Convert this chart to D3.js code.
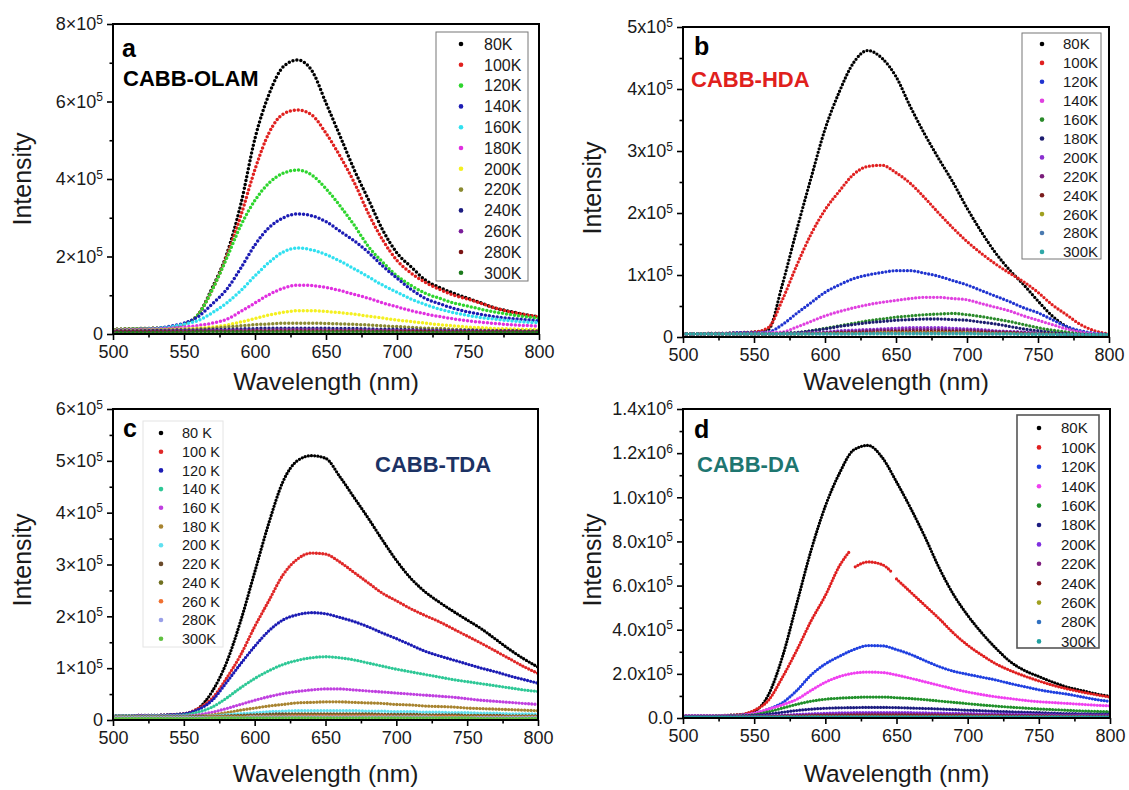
<!DOCTYPE html>
<html>
<head>
<meta charset="utf-8">
<script src="https://cdn.jsdelivr.net/npm/d3@7"></script>
<style>
  body { margin: 0; background: #fff; }
  text { font-family: Arial, "Liberation Sans", sans-serif; }
</style>
</head>
<body>
<script>
// wavelength grid (nm) shared by the spectra, intensities in units of 1e5
var waves = [500,510,520,530,540,550,560,570,580,590,600,610,620,630,640,650,660,670,680,690,700,710,720,730,740,750,760,770,780,790,800];

// ---- panel a : CABB-OLAM ----
var tempsA = ['80K','100K','120K','140K','160K','180K','200K','220K','240K','260K','280K','300K'];
var a80  = [0.12,0.13,0.14,0.15,0.17,0.25,0.5,1.2,2.05,3.35,5.05,6.2,6.9,7.07,6.8,5.96,5.1,4.23,3.46,2.68,2.09,1.73,1.39,1.2,1.05,0.92,0.79,0.66,0.58,0.5,0.44];
var a100 = [0.12,0.13,0.14,0.15,0.17,0.25,0.5,1.15,2.0,3.05,4.25,5.2,5.68,5.78,5.65,5.18,4.58,3.9,3.1,2.42,1.9,1.57,1.33,1.15,1.0,0.9,0.78,0.66,0.57,0.5,0.44];
var a120 = [0.12,0.13,0.14,0.15,0.17,0.25,0.5,1.15,1.95,2.8,3.45,3.9,4.15,4.23,4.1,3.75,3.3,2.8,2.25,1.85,1.5,1.25,1.05,0.92,0.8,0.72,0.63,0.56,0.5,0.45,0.41];
var a140 = [0.1,0.11,0.12,0.14,0.2,0.28,0.45,0.78,1.15,1.7,2.3,2.75,3.0,3.1,3.05,2.9,2.65,2.4,2.1,1.75,1.44,1.15,0.92,0.78,0.66,0.57,0.5,0.44,0.4,0.37,0.34];
var a160 = [0.1,0.11,0.12,0.14,0.18,0.25,0.35,0.55,0.8,1.12,1.5,1.85,2.12,2.22,2.17,2.05,1.88,1.68,1.47,1.26,1.08,0.9,0.76,0.64,0.55,0.48,0.42,0.38,0.34,0.31,0.29];
var a180 = [0.1,0.11,0.12,0.13,0.15,0.18,0.22,0.28,0.38,0.58,0.8,1.02,1.18,1.26,1.25,1.2,1.12,1.02,0.92,0.8,0.7,0.6,0.52,0.45,0.39,0.34,0.3,0.27,0.24,0.22,0.2];
var a200 = [0.09,0.1,0.1,0.11,0.12,0.13,0.15,0.18,0.23,0.31,0.4,0.49,0.56,0.6,0.6,0.58,0.55,0.51,0.46,0.41,0.36,0.32,0.28,0.24,0.21,0.18,0.16,0.14,0.13,0.12,0.11];
var a220 = [0.09,0.09,0.1,0.1,0.11,0.12,0.13,0.15,0.18,0.21,0.24,0.26,0.28,0.28,0.28,0.27,0.26,0.25,0.23,0.21,0.19,0.17,0.15,0.14,0.12,0.11,0.1,0.09,0.09,0.08,0.08];
var a240 = [0.08,0.08,0.08,0.09,0.09,0.1,0.1,0.11,0.12,0.13,0.14,0.15,0.15,0.15,0.15,0.15,0.14,0.14,0.13,0.12,0.12,0.11,0.1,0.1,0.09,0.09,0.08,0.08,0.08,0.07,0.07];
var a260 = [0.07,0.07,0.07,0.07,0.08,0.08,0.08,0.09,0.09,0.1,0.1,0.1,0.11,0.11,0.11,0.1,0.1,0.1,0.1,0.09,0.09,0.09,0.08,0.08,0.08,0.07,0.07,0.07,0.07,0.06,0.06];
var a280 = [0.06,0.06,0.06,0.06,0.06,0.06,0.07,0.07,0.07,0.07,0.08,0.08,0.08,0.08,0.08,0.08,0.08,0.08,0.07,0.07,0.07,0.07,0.07,0.06,0.06,0.06,0.06,0.06,0.06,0.05,0.05];
var a300 = [0.04,0.04,0.04,0.04,0.04,0.04,0.05,0.05,0.05,0.05,0.05,0.05,0.05,0.05,0.05,0.05,0.05,0.05,0.05,0.05,0.04,0.04,0.04,0.04,0.04,0.04,0.04,0.04,0.04,0.04,0.04];

// ---- panel b : CABB-HDA ----
var tempsB = tempsA;
var b80  = [0.05,0.05,0.06,0.06,0.07,0.08,0.12,0.85,1.72,2.55,3.35,3.95,4.42,4.62,4.5,4.2,3.72,3.28,2.88,2.5,2.08,1.7,1.36,1.08,0.84,0.58,0.34,0.17,0.08,0.04,0.03];
var b100 = [0.05,0.05,0.06,0.06,0.07,0.08,0.15,0.6,1.15,1.65,2.05,2.35,2.62,2.75,2.77,2.65,2.48,2.25,2.0,1.76,1.54,1.35,1.18,1.03,0.89,0.72,0.52,0.36,0.2,0.1,0.05];
var b120 = [0.05,0.05,0.06,0.06,0.07,0.07,0.08,0.2,0.38,0.55,0.72,0.84,0.94,1.0,1.04,1.07,1.07,1.03,0.98,0.91,0.84,0.75,0.66,0.57,0.47,0.39,0.28,0.17,0.1,0.06,0.04];
var b140 = [0.05,0.05,0.05,0.06,0.06,0.06,0.07,0.08,0.16,0.25,0.34,0.41,0.47,0.52,0.56,0.59,0.62,0.64,0.64,0.62,0.6,0.54,0.48,0.42,0.34,0.27,0.2,0.13,0.08,0.05,0.03];
var b160 = [0.05,0.05,0.05,0.05,0.05,0.05,0.05,0.06,0.07,0.1,0.14,0.18,0.22,0.26,0.29,0.32,0.34,0.36,0.37,0.38,0.36,0.33,0.29,0.25,0.2,0.15,0.11,0.08,0.05,0.04,0.03];
var b180 = [0.05,0.05,0.05,0.05,0.05,0.05,0.05,0.06,0.07,0.1,0.13,0.17,0.2,0.23,0.25,0.27,0.28,0.29,0.29,0.28,0.27,0.24,0.21,0.17,0.13,0.1,0.07,0.05,0.04,0.03,0.03];
var b200 = [0.05,0.05,0.05,0.05,0.05,0.05,0.05,0.05,0.06,0.07,0.08,0.1,0.11,0.12,0.13,0.14,0.15,0.15,0.15,0.14,0.13,0.12,0.1,0.09,0.08,0.06,0.05,0.04,0.03,0.03,0.03];
var b220 = [0.05,0.05,0.05,0.05,0.05,0.05,0.05,0.05,0.05,0.06,0.07,0.08,0.09,0.1,0.11,0.11,0.12,0.12,0.12,0.11,0.11,0.1,0.09,0.08,0.07,0.06,0.05,0.04,0.03,0.03,0.03];
var b240 = [0.05,0.05,0.05,0.05,0.05,0.05,0.05,0.05,0.05,0.06,0.06,0.07,0.07,0.08,0.08,0.09,0.09,0.09,0.09,0.09,0.08,0.08,0.07,0.07,0.06,0.05,0.05,0.04,0.03,0.03,0.03];
var b260 = [0.05,0.05,0.05,0.05,0.05,0.05,0.05,0.05,0.05,0.05,0.06,0.06,0.06,0.06,0.07,0.07,0.07,0.07,0.07,0.07,0.07,0.06,0.06,0.06,0.05,0.05,0.05,0.04,0.04,0.03,0.03];
var b280 = [0.05,0.05,0.05,0.05,0.05,0.05,0.05,0.05,0.05,0.05,0.05,0.05,0.05,0.06,0.06,0.06,0.06,0.06,0.06,0.06,0.06,0.05,0.05,0.05,0.05,0.05,0.04,0.04,0.04,0.03,0.03];
var b300 = [0.05,0.05,0.05,0.05,0.05,0.05,0.05,0.05,0.05,0.05,0.05,0.05,0.05,0.05,0.05,0.05,0.05,0.05,0.05,0.05,0.05,0.05,0.05,0.05,0.04,0.04,0.04,0.04,0.04,0.04,0.04];

// ---- panel c : CABB-TDA ----
var tempsC = ['80 K','100 K','120 K','140 K','160 K','180 K','200 K','220 K','240 K','260 K','280K','300K'];
var c80  = [0.08,0.08,0.09,0.09,0.1,0.12,0.22,0.55,1.1,1.9,2.85,3.8,4.6,5.0,5.1,5.05,4.7,4.3,3.9,3.48,3.08,2.74,2.48,2.28,2.1,1.93,1.76,1.56,1.36,1.18,1.02];
var c100 = [0.08,0.08,0.09,0.09,0.1,0.12,0.22,0.42,0.8,1.25,1.8,2.3,2.8,3.1,3.22,3.2,3.05,2.85,2.65,2.45,2.3,2.15,2.02,1.9,1.76,1.62,1.48,1.33,1.18,1.03,0.9];
var c120 = [0.08,0.08,0.09,0.09,0.1,0.12,0.2,0.38,0.72,1.08,1.42,1.72,1.93,2.03,2.07,2.05,1.98,1.9,1.8,1.68,1.57,1.45,1.33,1.24,1.16,1.08,1.0,0.93,0.85,0.78,0.71];
var c140 = [0.08,0.08,0.08,0.09,0.09,0.1,0.15,0.25,0.42,0.62,0.8,0.95,1.07,1.15,1.2,1.22,1.2,1.16,1.1,1.04,0.98,0.93,0.88,0.83,0.78,0.74,0.7,0.66,0.62,0.58,0.55];
var c160 = [0.07,0.07,0.08,0.08,0.08,0.08,0.1,0.15,0.22,0.3,0.38,0.45,0.51,0.55,0.58,0.6,0.6,0.58,0.56,0.54,0.52,0.5,0.48,0.46,0.44,0.41,0.38,0.36,0.34,0.32,0.3];
var c180 = [0.07,0.07,0.07,0.07,0.07,0.07,0.08,0.1,0.14,0.19,0.23,0.27,0.3,0.33,0.34,0.35,0.35,0.34,0.33,0.32,0.3,0.29,0.27,0.26,0.25,0.23,0.22,0.21,0.2,0.19,0.18];
var c200 = [0.07,0.07,0.07,0.07,0.07,0.07,0.07,0.08,0.1,0.12,0.14,0.16,0.17,0.18,0.18,0.18,0.18,0.18,0.17,0.17,0.16,0.16,0.15,0.15,0.14,0.14,0.13,0.13,0.12,0.12,0.11];
var c220 = [0.06,0.06,0.06,0.06,0.06,0.06,0.07,0.07,0.08,0.09,0.1,0.11,0.12,0.12,0.12,0.12,0.12,0.12,0.12,0.11,0.11,0.11,0.1,0.1,0.1,0.09,0.09,0.09,0.08,0.08,0.08];
var c240 = [0.06,0.06,0.06,0.06,0.06,0.06,0.06,0.07,0.07,0.08,0.08,0.09,0.09,0.1,0.1,0.1,0.1,0.1,0.1,0.09,0.09,0.09,0.09,0.08,0.08,0.08,0.08,0.07,0.07,0.07,0.07];
var c260 = [0.05,0.05,0.05,0.05,0.05,0.05,0.05,0.06,0.06,0.06,0.07,0.07,0.07,0.08,0.08,0.08,0.08,0.08,0.08,0.08,0.07,0.07,0.07,0.07,0.07,0.06,0.06,0.06,0.06,0.06,0.06];
var c280 = [0.05,0.05,0.05,0.05,0.05,0.05,0.05,0.05,0.05,0.05,0.06,0.06,0.06,0.06,0.06,0.06,0.06,0.06,0.06,0.06,0.06,0.06,0.06,0.05,0.05,0.05,0.05,0.05,0.05,0.05,0.05];
var c300 = [0.03,0.03,0.03,0.03,0.03,0.03,0.03,0.04,0.04,0.04,0.04,0.04,0.04,0.04,0.04,0.04,0.04,0.04,0.04,0.04,0.04,0.04,0.04,0.04,0.04,0.04,0.03,0.03,0.03,0.03,0.03];

// ---- panel d : CABB-DA ----
var tempsD = tempsA;
var d80  = [0.1,0.1,0.1,0.12,0.15,0.3,1.05,2.8,5.2,7.6,9.6,11.1,12.15,12.35,11.8,10.7,9.5,8.2,6.8,5.6,4.65,3.85,3.15,2.55,2.15,1.88,1.62,1.4,1.25,1.1,0.98];
// 100K has two breaks in the measured spectrum
var dWaves100 = [500,510,520,530,540,550,560,570,580,590,600,610,617,619,621,630,640,646,648,650,660,670,680,690,700,710,720,730,740,750,760,770,780,790,800];
var d100 = [0.1,0.1,0.1,0.12,0.15,0.35,0.8,1.86,3.08,4.4,5.55,6.9,7.55,null,6.85,7.07,6.95,6.65,null,6.3,5.7,5.1,4.5,3.85,3.3,2.85,2.45,2.15,1.9,1.68,1.48,1.32,1.18,1.06,0.95];
var d120 = [0.1,0.1,0.1,0.11,0.13,0.2,0.4,0.7,1.25,1.95,2.45,2.8,3.1,3.28,3.27,3.1,2.88,2.6,2.33,2.12,1.98,1.85,1.72,1.56,1.42,1.28,1.17,1.08,0.96,0.84,0.75];
var d140 = [0.1,0.1,0.1,0.11,0.12,0.22,0.4,0.6,0.85,1.25,1.62,1.88,2.03,2.08,2.06,1.95,1.8,1.64,1.48,1.32,1.18,1.06,0.96,0.88,0.8,0.74,0.7,0.66,0.62,0.58,0.55];
var d160 = [0.08,0.08,0.08,0.09,0.1,0.15,0.28,0.45,0.62,0.76,0.85,0.9,0.93,0.95,0.95,0.92,0.88,0.83,0.77,0.71,0.65,0.59,0.54,0.49,0.45,0.41,0.38,0.35,0.32,0.3,0.28];
var d180 = [0.07,0.07,0.07,0.08,0.09,0.12,0.18,0.26,0.34,0.4,0.44,0.46,0.47,0.48,0.48,0.47,0.45,0.43,0.41,0.38,0.35,0.33,0.3,0.28,0.26,0.24,0.22,0.2,0.19,0.18,0.17];
var d200 = [0.06,0.06,0.06,0.07,0.07,0.08,0.1,0.13,0.16,0.19,0.21,0.23,0.24,0.25,0.25,0.25,0.24,0.23,0.22,0.21,0.2,0.19,0.18,0.17,0.16,0.15,0.14,0.13,0.13,0.12,0.12];
var d220 = [0.05,0.05,0.05,0.06,0.06,0.07,0.08,0.1,0.12,0.14,0.15,0.16,0.17,0.18,0.18,0.18,0.17,0.17,0.16,0.15,0.15,0.14,0.13,0.13,0.12,0.12,0.11,0.11,0.1,0.1,0.1];
var d240 = [0.05,0.05,0.05,0.05,0.05,0.06,0.07,0.08,0.09,0.1,0.11,0.11,0.12,0.12,0.12,0.12,0.12,0.11,0.11,0.11,0.1,0.1,0.1,0.09,0.09,0.09,0.08,0.08,0.08,0.08,0.07];
var d260 = [0.04,0.04,0.04,0.04,0.05,0.05,0.05,0.06,0.06,0.07,0.07,0.07,0.08,0.08,0.08,0.08,0.08,0.08,0.07,0.07,0.07,0.07,0.07,0.06,0.06,0.06,0.06,0.06,0.06,0.05,0.05];
var d280 = [0.05,0.05,0.05,0.05,0.05,0.05,0.05,0.05,0.05,0.05,0.05,0.05,0.05,0.05,0.05,0.05,0.05,0.05,0.05,0.05,0.05,0.05,0.05,0.05,0.05,0.05,0.05,0.05,0.05,0.05,0.05];
var d300 = [0.03,0.03,0.03,0.03,0.03,0.03,0.03,0.03,0.03,0.03,0.03,0.03,0.03,0.03,0.03,0.03,0.03,0.03,0.03,0.03,0.03,0.03,0.03,0.03,0.03,0.03,0.03,0.03,0.03,0.03,0.03];

// axis ticks
var xMajor = [500,550,600,650,700,750,800];
var xMinor = [525,575,625,675,725,775];

// colours
var colorsA = ['#000000','#e0201e','#2ed52e','#1c1cb4','#30e0f0','#e030e0','#f4f020','#8a8a30','#1c1c80','#7a1c9a','#7a1414','#1c7a1c'];
var colorsB = ['#000000','#e02020','#2034d0','#e040e0','#2a8a2a','#1c1c70','#8a30d0','#7a1c7a','#7a1c1c','#a0a020','#4a7ab0','#30a8a8'];
var colorsC = ['#000000','#e02828','#1c1cb4','#2ec896','#c040e0','#a88430','#60e0f0','#6a4a2a','#707020','#f07030','#9aa0e8','#60c040'];
var colorsD = ['#000000','#e02020','#2040e0','#f040f0','#20902a','#1c1c80','#8030e0','#802080','#801818','#a0a020','#3070c0','#20a0a0'];

var panels = [
  { id:'a', L:113, T:24, R:539, B:334, ymax:8, yMajor:[0,2,4,6,8], yMinor:[1,3,5,7],
    fmt:function(d){ return d===0 ? ['0'] : [d+'\u00d710','5']; },
    series:[a80,a100,a120,a140,a160,a180,a200,a220,a240,a260,a280,a300], temps:tempsA, colors:colorsA,
    dotW:3.5, dotGap:4.0,
    letter:{x:122,y:57}, name:{text:'CABB-OLAM', x:123, y:86, color:'#000'},
    legend:{x0:436,y0:32,x1:528,y1:281, row0:44, step:20.8, cx:461, tx:484, fs:16, stroke:'#777', sw:1},
    ylabY:179, xlabY:390 },
  { id:'b', L:683, T:27, R:1109, B:337, ymax:5, yMajor:[0,1,2,3,4,5], yMinor:[0.5,1.5,2.5,3.5,4.5],
    fmt:function(d){ return d===0 ? ['0'] : [d+'x10','5']; },
    series:[b80,b100,b120,b140,b160,b180,b200,b220,b240,b260,b280,b300], temps:tempsB, colors:colorsB,
    dotW:3.3, dotGap:3.6,
    letter:{x:694,y:55}, name:{text:'CABB-HDA', x:691, y:87, color:'#e0201c'},
    legend:{x0:1022,y0:33,x1:1101,y1:259, row0:44, step:18.9, cx:1042, tx:1063, fs:15, stroke:'#777', sw:1},
    ylabY:188, xlabY:390 },
  { id:'c', L:113, T:409, R:538, B:720, ymax:6, yMajor:[0,1,2,3,4,5,6], yMinor:[0.5,1.5,2.5,3.5,4.5,5.5],
    fmt:function(d){ return d===0 ? ['0'] : [d+'\u00d710','5']; },
    series:[c80,c100,c120,c140,c160,c180,c200,c220,c240,c260,c280,c300], temps:tempsC, colors:colorsC,
    dotW:3.3, dotGap:3.2,
    letter:{x:123,y:437}, name:{text:'CABB-TDA', x:375, y:472, color:'#1c3264'},
    legend:{x0:143,y0:421,x1:223,y1:647, row0:433, step:18.7, cx:161, tx:182, fs:14.5, stroke:'#e4e4e4', sw:1},
    ylabY:560, xlabY:782 },
  { id:'d', L:683, T:409, R:1110, B:718, ymax:14, yMajor:[0,2,4,6,8,10,12,14], yMinor:[1,3,5,7,9,11,13],
    fmt:function(d){ return d===0 ? ['0.0'] : (d<10 ? [d.toFixed(1)+'x10','5'] : [(d/10).toFixed(1)+'x10','6']); },
    series:[d80,d100,d120,d140,d160,d180,d200,d220,d240,d260,d280,d300], temps:tempsD, colors:colorsD,
    waveSets:{1:dWaves100},
    dotW:3.2, dotGap:3.0,
    letter:{x:694,y:438}, name:{text:'CABB-DA', x:697, y:472, color:'#1e7670'},
    legend:{x0:1017,y0:415,x1:1099,y1:648, row0:428, step:19.4, cx:1039, tx:1061, fs:15, stroke:'#555', sw:1.6},
    ylabY:560, xlabY:782 }
];

var svg = d3.select('body').append('svg').attr('width',1129).attr('height',790);

var drawPanel = function(p){

  var g = svg.append('g');
  var x = d3.scaleLinear().domain([500,800]).range([p.L,p.R]);
  var y = d3.scaleLinear().domain([0,p.ymax]).range([p.B,p.T]);

  svg.append('clipPath').attr('id','clip'+p.id)
     .append('rect').attr('x',p.L).attr('y',p.T).attr('width',p.R-p.L).attr('height',p.B-p.T);

  var line = d3.line()
               .defined(function(d){ return d.v != null; })
               .x(function(d){ return x(d.w); })
               .y(function(d){ return y(d.v); })
               .curve(d3.curveMonotoneX);

  var curves = g.append('g').attr('clip-path','url(#clip'+p.id+')');
  p.series.forEach(function(s,k){
    var w = (p.waveSets && p.waveSets[k]) || waves;
    var pts = w.map(function(wl,i){ return {w:wl, v:s[i]}; });
    curves.append('path')
          .attr('d', line(pts))
          .attr('fill','none')
          .attr('stroke',p.colors[k])
          .attr('stroke-width',p.dotW)
          .attr('stroke-linecap','round')
          .attr('stroke-dasharray','0 '+p.dotGap);
  });

  // axes
  g.append('g').attr('transform','translate(0,'+p.B+')')
   .call(d3.axisBottom(x).tickValues(xMajor).tickSize(6).tickPadding(5).tickFormat(d3.format('d')));
  g.append('g').attr('transform','translate(0,'+p.B+')')
   .call(d3.axisBottom(x).tickValues(xMinor).tickSize(3.5).tickFormat(''));
  var ya = g.append('g').attr('transform','translate('+p.L+',0)')
            .call(d3.axisLeft(y).tickValues(p.yMajor).tickSize(6).tickPadding(4));
  g.append('g').attr('transform','translate('+p.L+',0)')
   .call(d3.axisLeft(y).tickValues(p.yMinor).tickSize(3.5).tickFormat(''));

  g.selectAll('.domain').remove();
  g.selectAll('.tick line').attr('stroke','#000').attr('stroke-width',1.6);
  g.selectAll('.tick text').attr('font-size','18px').attr('fill','#1a1a1a')
   .attr('font-family','Arial, "Liberation Sans", sans-serif');

  ya.selectAll('.tick text').each(function(d){
    var t = d3.select(this);
    var parts = p.fmt(d);
    t.text(parts[0]);
    if (parts[1]) {
      t.append('tspan').attr('dy','-0.55em').attr('font-size','12px').text(parts[1]);
    }
  });

  // frame
  g.append('rect').attr('x',p.L).attr('y',p.T).attr('width',p.R-p.L).attr('height',p.B-p.T)
   .attr('fill','none').attr('stroke','#000').attr('stroke-width',2);

  // labels
  g.append('text').attr('x',(p.L+p.R)/2).attr('y',p.xlabY).attr('text-anchor','middle')
   .attr('font-size','24.5px').attr('fill','#1a1a1a').text('Wavelength (nm)');
  g.append('text').attr('transform','translate('+(p.L-82)+','+p.ylabY+') rotate(-90)')
   .attr('text-anchor','middle').attr('font-size','25px').attr('fill','#1a1a1a').text('Intensity');

  g.append('text').attr('x',p.letter.x).attr('y',p.letter.y).attr('font-size','25px')
   .attr('font-weight','bold').attr('fill','#000').text(p.id);
  g.append('text').attr('x',p.name.x).attr('y',p.name.y).attr('font-size','22px')
   .attr('font-weight','bold').attr('fill',p.name.color).text(p.name.text);

  // legend
  var lg = p.legend;
  var leg = g.append('g');
  leg.append('rect').attr('x',lg.x0).attr('y',lg.y0).attr('width',lg.x1-lg.x0).attr('height',lg.y1-lg.y0)
     .attr('fill','#fff').attr('stroke',lg.stroke).attr('stroke-width',lg.sw);
  leg.selectAll('.dot').data(p.temps).enter()
     .append('circle')
     .attr('cx',lg.cx)
     .attr('cy',function(d,i){ return lg.row0+i*lg.step; })
     .attr('r',2.3)
     .attr('fill',function(d,i){ return p.colors[i]; });
  leg.selectAll('.lab').data(p.temps).enter()
     .append('text')
     .attr('x',lg.tx)
     .attr('y',function(d,i){ return lg.row0+i*lg.step; })
     .attr('dy','0.36em')
     .attr('font-size',lg.fs+'px')
     .attr('fill','#1a1a1a')
     .text(function(d){ return d; });
}

panels.forEach(drawPanel);
</script>
</body>
</html>
